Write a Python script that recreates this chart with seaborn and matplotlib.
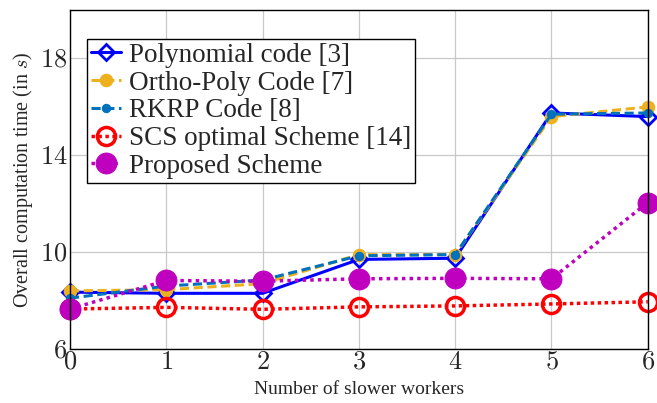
import matplotlib
matplotlib.use("Agg")
import matplotlib.pyplot as plt
import seaborn as sns
import pandas as pd

workers = [0, 1, 2, 3, 4, 5, 6]
polynomial = [8.35, 8.3, 8.3, 9.7, 9.75, 15.75, 15.6]
ortho_poly = [8.4, 8.45, 8.7, 9.9, 9.9, 15.6, 16.0]
rkrp = [8.1, 8.6, 8.85, 9.85, 9.9, 15.7, 15.75]
scs = [7.65, 7.72, 7.64, 7.74, 7.78, 7.86, 7.95]
proposed = [7.65, 8.83, 8.8, 8.9, 8.92, 8.9, 12.05]

yticks = [6, 10, 14, 18]

sns.set_style("whitegrid")
plt.rcParams["font.family"] = ["Liberation Serif", "DejaVu Serif"]
plt.rcParams["mathtext.fontset"] = "cm"

fig = plt.figure(figsize=(6.57, 4.03), dpi=100)
ax = fig.add_axes([0.1065, 0.134, 0.8795, 0.841])

series = [
    ("Polynomial code [3]", polynomial,
     dict(color="#0000FF", linestyle="-", linewidth=2.2, marker="D", markersize=8,
          markerfacecolor="none", markeredgewidth=2)),
    ("Ortho-Poly Code [7]", ortho_poly,
     dict(color="#EDB120", linestyle=(0, (3, 1.5)), linewidth=2.2, marker="o", markersize=9)),
    ("RKRP Code [8]", rkrp,
     dict(color="#0072BD", linestyle=(0, (3, 1.5)), linewidth=2.2, marker="o", markersize=6)),
    ("SCS optimal Scheme [14]", scs,
     dict(color="#FF0000", linestyle=(0, (1, 1)), linewidth=2.5, marker="o", markersize=13,
          markerfacecolor="none", markeredgewidth=2.5)),
    ("Proposed Scheme", proposed,
     dict(color="#BF00BF", linestyle=(0, (1, 1.2)), linewidth=2.5, marker="o", markersize=15)),
]

for label, vals, kw in series:
    df = pd.DataFrame({"workers": workers, "time": vals})
    sns.lineplot(data=df, x="workers", y="time", ax=ax, label=label,
                 markeredgecolor=kw["color"], clip_on=False, **kw)

ax.set_xlim(0, 6)
ax.set_ylim(6, 20)
ax.set_xticks(workers)
ax.set_yticks(yticks)
ax.set_xticklabels([f"${v}$" for v in workers])
ax.set_yticklabels([f"${v}$" for v in yticks])
ax.tick_params(labelsize=19, direction="in", length=4, color="#999999", pad=2)
ax.grid(True, color="#c8c8c8", linewidth=0.9)
for s in ax.spines.values():
    s.set_color("black")
    s.set_linewidth(1.0)

ax.set_xlabel("Number of slower workers", fontsize=14, labelpad=5)
ax.set_ylabel("Overall computation time (in $s$)", fontsize=14.5, labelpad=3)

leg = ax.legend(loc="upper left", bbox_to_anchor=(0.029, 0.915), fontsize=19.5,
                frameon=True, fancybox=False, edgecolor="black", framealpha=1,
                handlelength=1.1, handletextpad=0.3, borderpad=0.15, labelspacing=0.1,
                borderaxespad=0)
leg.get_frame().set_linewidth(1.0)

fig.savefig("out.png", dpi=100)
